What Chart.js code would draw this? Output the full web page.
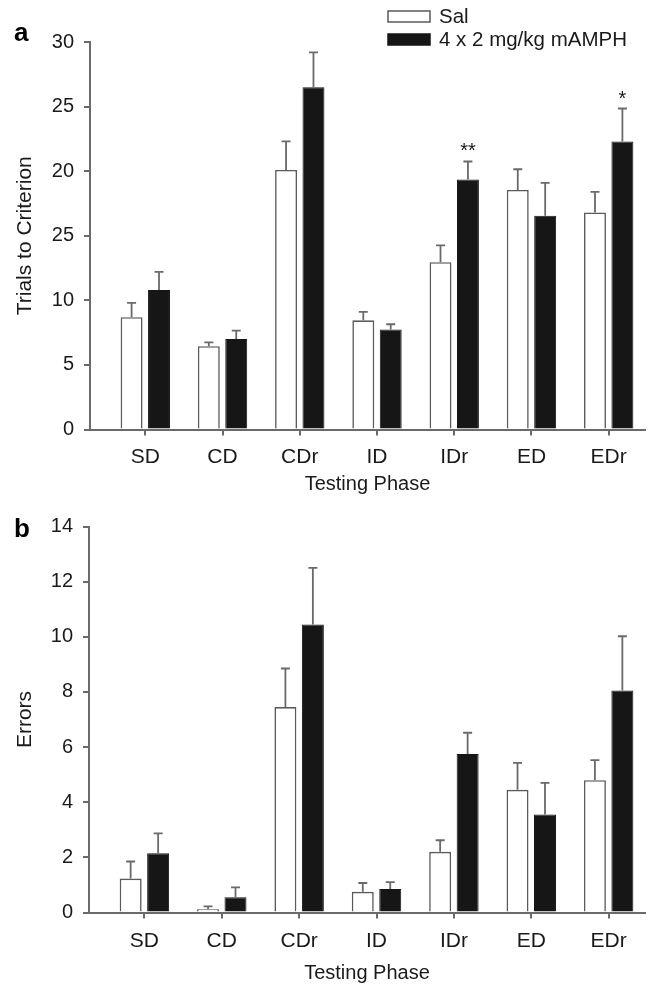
<!DOCTYPE html>
<html>
<head>
<meta charset="utf-8">
<title>Trials to criterion and errors by testing phase</title>
<script src="https://cdn.jsdelivr.net/npm/chart.js@4.4.0/dist/chart.umd.min.js"></script>
<style>
  body { margin: 0; background: #fff; }
  #boxTrials { position: absolute; left: 0; top: 0; width: 651px; height: 500px; }
  #boxErrors { position: absolute; left: 0; top: 500px; width: 651px; height: 485px; }
</style>
</head>
<body>
<div id="boxTrials"><canvas id="chartTrials"></canvas></div>
<div id="boxErrors"><canvas id="chartErrors"></canvas></div>
<script>
// categories
const phases = ['SD', 'CD', 'CDr', 'ID', 'IDr', 'ED', 'EDr'];

// panel a: trials to criterion (mean and SEM)
const trialsSal = [8.7, 6.45, 20.1, 8.45, 12.95, 18.55, 16.8];
const trialsSalErr = [1.1, 0.3, 2.2, 0.65, 1.3, 1.6, 1.6];
const trialsAmph = [10.8, 7.0, 26.5, 7.75, 19.35, 16.55, 22.3];
const trialsAmphErr = [1.4, 0.65, 2.7, 0.4, 1.4, 2.55, 2.55];
const trialsSig = ['', '', '', '', '**', '', '*'];
const trialsTicks = [0, 5, 10, 15, 20, 25, 30];
const trialsTickLabels = ['0', '5', '10', '25', '20', '25', '30']; // as printed in the figure

// panel b: errors (mean and SEM)
const errorsSal = [1.23, 0.12, 7.45, 0.75, 2.2, 4.45, 4.8];
const errorsSalErr = [0.62, 0.1, 1.4, 0.32, 0.42, 0.98, 0.73];
const errorsAmph = [2.15, 0.55, 10.45, 0.85, 5.75, 3.55, 8.05];
const errorsAmphErr = [0.72, 0.36, 2.05, 0.25, 0.77, 1.15, 1.97];
const errorsTicks = [0, 2, 4, 6, 8, 10, 12, 14];

const seriesNames = ['Sal', '4 x 2 mg/kg mAMPH'];

const fontFamily = '"Liberation Sans", Arial, Helvetica, sans-serif';
const axisColor = '#6a6a6a';
const textColor = '#1a1a1a';
const darkBar = '#161616';

Chart.defaults.font.family = fontFamily;
Chart.defaults.color = textColor;

// error bars (upper only) plus significance stars
const errorBarPlugin = {
    id: 'errorBars',
    afterDatasetsDraw(chart) {
        const ctx = chart.ctx;
        const yScale = chart.scales.y;
        chart.data.datasets.forEach((ds, di) => {
            const meta = chart.getDatasetMeta(di);
            meta.data.forEach((bar, i) => {
                const top = yScale.getPixelForValue(ds.data[i].y + ds.errors[i]);
                ctx.save();
                ctx.strokeStyle = axisColor;
                ctx.lineWidth = 1.8;
                ctx.beginPath();
                ctx.moveTo(bar.x, bar.y);
                ctx.lineTo(bar.x, top);
                ctx.moveTo(bar.x - 4.5, top);
                ctx.lineTo(bar.x + 4.5, top);
                ctx.stroke();
                if (ds.sig && ds.sig[i]) {
                    ctx.fillStyle = textColor;
                    ctx.font = '20px ' + fontFamily;
                    ctx.textAlign = 'center';
                    ctx.textBaseline = 'alphabetic';
                    ctx.fillText(ds.sig[i], bar.x, top - 4);
                }
                ctx.restore();
            });
        });
    }
};

// box legend in the top right corner
const boxLegendPlugin = {
    id: 'boxLegend',
    afterDraw(chart, args, opts) {
        if (!opts.display) return;
        const ctx = chart.ctx;
        ctx.save();
        chart.data.datasets.forEach((ds, i) => {
            const bx = opts.x;
            const by = opts.y + i * opts.rowHeight;
            ctx.fillStyle = ds.backgroundColor;
            ctx.fillRect(bx, by, 42, 11);
            ctx.strokeStyle = ds.borderColor;
            ctx.lineWidth = 1.5;
            ctx.strokeRect(bx, by, 42, 11);
            ctx.fillStyle = textColor;
            ctx.font = '20.5px ' + fontFamily;
            ctx.textAlign = 'left';
            ctx.textBaseline = 'middle';
            ctx.fillText(ds.label, bx + 51, by + 6);
        });
        ctx.restore();
    }
};

// bold panel letter
const panelLetterPlugin = {
    id: 'panelLetter',
    afterDraw(chart, args, opts) {
        const ctx = chart.ctx;
        ctx.save();
        ctx.fillStyle = '#000';
        ctx.font = 'bold 26px ' + fontFamily;
        ctx.textAlign = 'left';
        ctx.textBaseline = 'alphabetic';
        ctx.fillText(opts.text, opts.x, opts.y);
        ctx.restore();
    }
};

function makeDatasets(salVals, salErr, amphVals, amphErr, amphSig) {
    return [
        {
            label: seriesNames[0],
            data: phases.map((p, i) => ({ x: i + 1, y: salVals[i] })),
            errors: salErr,
            backgroundColor: '#ffffff',
            borderColor: '#5a5a5a',
            borderWidth: 1.6,
            barPercentage: 0.8,
            categoryPercentage: 0.71
        },
        {
            label: seriesNames[1],
            data: phases.map((p, i) => ({ x: i + 1, y: amphVals[i] })),
            errors: amphErr,
            sig: amphSig,
            backgroundColor: darkBar,
            borderColor: darkBar,
            borderWidth: 1,
            barPercentage: 0.8,
            categoryPercentage: 0.71
        }
    ];
}

function makeOptions(cfg) {
    return {
        responsive: true,
        maintainAspectRatio: false,
        animation: false,
        layout: { padding: { top: cfg.padTop, right: 6, left: 0, bottom: 0 } },
        plugins: {
            legend: { display: false },
            tooltip: { enabled: false },
            boxLegend: cfg.legend,
            panelLetter: cfg.letter
        },
        scales: {
            x: {
                type: 'linear',
                min: 0.284,
                max: 7.47,
                offset: false,
                afterBuildTicks: s => { s.ticks = phases.map((p, i) => ({ value: i + 1 })); },
                afterFit: s => { s.height = cfg.xHeight; },
                ticks: {
                    callback: (v, i) => phases[i],
                    font: { size: 21 },
                    color: textColor,
                    padding: cfg.xTickPad,
                    autoSkip: false,
                    maxRotation: 0
                },
                grid: { offset: false, drawOnChartArea: false, tickLength: 6, color: axisColor, lineWidth: 2 },
                border: { color: axisColor, width: 2 },
                title: {
                    display: true,
                    text: 'Testing Phase',
                    font: { size: 20 },
                    color: textColor,
                    padding: { top: 0, bottom: cfg.xTitlePad }
                }
            },
            y: {
                min: cfg.yTicks[0],
                max: cfg.yTicks[cfg.yTicks.length - 1],
                afterBuildTicks: s => { s.ticks = cfg.yTicks.map(v => ({ value: v })); },
                afterFit: s => { s.width = cfg.yWidth; },
                ticks: {
                    callback: (v, i) => cfg.yLabels[i],
                    font: { size: 20 },
                    color: textColor,
                    padding: 10
                },
                grid: { drawOnChartArea: false, tickLength: 6, color: axisColor, lineWidth: 2 },
                border: { color: axisColor, width: 2 },
                title: {
                    display: true,
                    text: cfg.yTitle,
                    font: { size: 21 },
                    color: textColor,
                    padding: { top: 13, bottom: 0 }
                }
            }
        }
    };
}

document.addEventListener('DOMContentLoaded', () => {
    // a: trials to criterion
    new Chart(document.getElementById('chartTrials'), {
        type: 'bar',
        data: { datasets: makeDatasets(trialsSal, trialsSalErr, trialsAmph, trialsAmphErr, trialsSig) },
        options: makeOptions({
            padTop: 42,
            xHeight: 70.5,
            xTickPad: 9,
            xTitlePad: 4,
            yWidth: 90,
            yTicks: trialsTicks,
            yLabels: trialsTickLabels,
            yTitle: 'Trials to Criterion',
            legend: { display: true, x: 388, y: 11, rowHeight: 23 },
            letter: { text: 'a', x: 14, y: 41 }
        }),
        plugins: [errorBarPlugin, boxLegendPlugin, panelLetterPlugin]
    });

    // b: errors
    new Chart(document.getElementById('chartErrors'), {
        type: 'bar',
        data: { datasets: makeDatasets(errorsSal, errorsSalErr, errorsAmph, errorsAmphErr, null) },
        options: makeOptions({
            padTop: 26.5,
            xHeight: 72.5,
            xTickPad: 10,
            xTitlePad: 0,
            yWidth: 89,
            yTicks: errorsTicks,
            yLabels: errorsTicks.map(String),
            yTitle: 'Errors',
            legend: { display: false },
            letter: { text: 'b', x: 14, y: 36.5 }
        }),
        plugins: [errorBarPlugin, boxLegendPlugin, panelLetterPlugin]
    });
});
</script>
</body>
</html>
